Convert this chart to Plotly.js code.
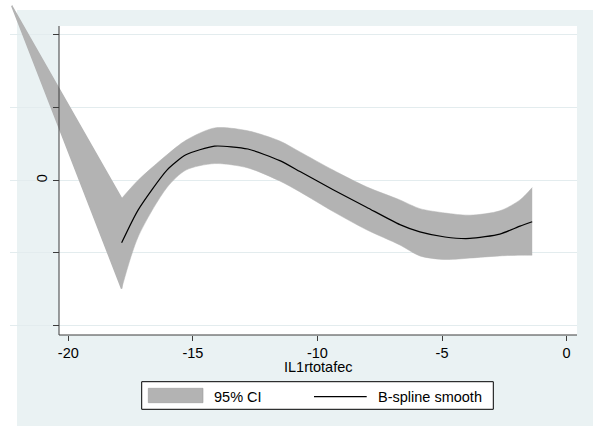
<!DOCTYPE html>
<html>
<head>
<meta charset="utf-8">
<script src="https://cdn.plot.ly/plotly-3.0.1.min.js"></script>
<style>html,body{margin:0;padding:0;background:#fff;}#chart{width:593px;height:426px;}</style>
</head>
<body>
<div id="chart"></div>
<script>
// ---- data ----
const ciX     = [-22.27, -17.86, -17.20, -16.04, -15.28, -14.13, -12.79, -11.51, -10.70, -9.37, -8.03, -6.69, -5.89, -4.88, -3.88, -2.68, -1.87, -1.38];
const ciUpper = [  2.40,  -0.25,   0.00,   0.35,   0.55,   0.72,   0.68,   0.54,   0.39,  0.14, -0.09, -0.27, -0.39, -0.45, -0.48, -0.42, -0.27, -0.10];
const ciLower = [  2.40,  -1.49,  -0.78,  -0.10,   0.14,   0.23,   0.17,  -0.01,  -0.16, -0.43, -0.68, -0.89, -1.04, -1.09, -1.07, -1.04, -1.03, -1.03];
const fitX    = [-17.86, -17.20, -16.04, -15.28, -14.13, -12.79, -11.51, -10.70, -9.37, -8.03, -6.69, -5.89, -4.88, -3.88, -2.68, -1.87, -1.38];
const fitY    = [ -0.86,  -0.41,   0.14,   0.35,   0.47,   0.43,   0.27,   0.12, -0.13, -0.37, -0.61, -0.71, -0.78, -0.80, -0.74, -0.63, -0.57];
const xTickVals = [-20, -15, -10, -5, 0];
const xTickText = ['-20', '-15', '-10', '-5', '0'];
const yTickVals = [-2, -1, 0, 1, 2];
const yTickText = ['', '', '0', '', ''];
const xTitle = 'IL1rtotafec';
const legendCI = '95% CI';
const legendFit = 'B-spline smooth';

const FONT = '"Liberation Sans", Arial, Helvetica, sans-serif';
const BAND = '#b3b3b3';
const BG = '#eaf2f3';
const AXIS = '#3c3c3c';

// left (straight) wedge of the band, from the tip to the first fitted x
const wedgeX = [ciX[0], ciX[1], ciX[1], ciX[0]];
const wedgeY = [ciUpper[0], ciUpper[1], ciLower[1], ciLower[0]];

const traces = [
  {x: wedgeX, y: wedgeY, type: 'scatter', mode: 'lines', fill: 'toself',
   fillcolor: BAND, line: {color: BAND, width: 1.5}, hoverinfo: 'skip', showlegend: false},
  {x: ciX.slice(1), y: ciLower.slice(1), type: 'scatter', mode: 'lines',
   line: {color: BAND, width: 0.5, shape: 'spline', smoothing: 0.8}, hoverinfo: 'skip', showlegend: false},
  {x: ciX.slice(1), y: ciUpper.slice(1), type: 'scatter', mode: 'lines', fill: 'tonexty',
   fillcolor: BAND, line: {color: BAND, width: 0.5, shape: 'spline', smoothing: 0.8}, hoverinfo: 'skip', showlegend: false},
  {x: fitX, y: fitY, type: 'scatter', mode: 'lines',
   line: {color: '#000000', width: 1.2, shape: 'spline', smoothing: 0.6}, showlegend: false}
];

// plot area spans px x 10..577, y 5..335
const W = 567, H = 330, L = 10, T = 5;
const px = v => (v - L) / W;          // pixel x -> paper
const py = v => (T + H - v) / H;      // pixel y -> paper
const yAxisPos = px(59);

const shapes = [
  {type: 'rect', xref: 'paper', yref: 'paper', layer: 'below',
   x0: px(17), x1: px(593), y0: py(426), y1: py(10), fillcolor: BG, line: {width: 0}},
  {type: 'rect', xref: 'paper', yref: 'paper', layer: 'below',
   x0: yAxisPos, x1: 1, y0: 0, y1: py(26), fillcolor: '#ffffff', line: {width: 0}},
  {type: 'line', xref: 'paper', yref: 'paper', x0: yAxisPos, x1: yAxisPos, y0: 0, y1: py(26),
   line: {color: AXIS, width: 1}},
  {type: 'line', xref: 'paper', yref: 'paper', x0: yAxisPos, x1: 1, y0: 0, y1: 0,
   line: {color: AXIS, width: 1}},
  {type: 'rect', xref: 'paper', yref: 'paper', x0: px(141.7), x1: px(493.3), y0: py(409.3), y1: py(381.7),
   fillcolor: '#ffffff', line: {color: '#000000', width: 1}},
  {type: 'rect', xref: 'paper', yref: 'paper', x0: px(148.3), x1: px(203), y0: py(402.7), y1: py(388.3),
   fillcolor: BAND, line: {color: '#9a9a9a', width: 0.6}},
  {type: 'line', xref: 'paper', yref: 'paper', x0: px(314), x1: px(366.7), y0: py(396.7), y1: py(396.7),
   line: {color: '#000000', width: 1.2}}
];

const annotations = [
  {text: xTitle, xref: 'paper', yref: 'paper', x: px(318), y: py(367.5), xanchor: 'center', yanchor: 'middle',
   showarrow: false, font: {family: FONT, size: 14.5, color: '#000'}},
  {text: legendCI, xref: 'paper', yref: 'paper', x: px(211.5), y: py(396.5), xanchor: 'left', yanchor: 'middle',
   showarrow: false, font: {family: FONT, size: 14.5, color: '#000'}},
  {text: legendFit, xref: 'paper', yref: 'paper', x: px(375.5), y: py(396.5), xanchor: 'left', yanchor: 'middle',
   showarrow: false, font: {family: FONT, size: 14.5, color: '#000'}}
];

const layout = {
  width: 593, height: 426,
  margin: {l: L, r: 593 - L - W, t: T, b: 426 - T - H, pad: 0},
  paper_bgcolor: '#ffffff',
  plot_bgcolor: 'rgba(0,0,0,0)',
  font: {family: FONT, size: 14.5, color: '#000'},
  showlegend: false,
  xaxis: {range: [-22.34, 0.418], tickvals: xTickVals, ticktext: xTickText,
          ticks: 'outside', ticklen: 5, tickwidth: 1, tickcolor: AXIS,
          showgrid: false, zeroline: false, showline: false, fixedrange: true,
          tickfont: {family: FONT, size: 14.5, color: '#000'}},
  yaxis: {range: [-2.128, 2.411], tickvals: yTickVals, ticktext: yTickText,
          anchor: 'free', position: yAxisPos, side: 'left',
          ticks: 'outside', ticklen: 6, tickwidth: 1, tickcolor: AXIS, tickangle: -90,
          showgrid: true, gridcolor: '#e3ecee', gridwidth: 1,
          zeroline: false, showline: false, fixedrange: true,
          tickfont: {family: FONT, size: 14.5, color: '#000'}},
  shapes: shapes,
  annotations: annotations
};

Plotly.newPlot('chart', traces, layout, {staticPlot: true, displayModeBar: false});
</script>
</body>
</html>
